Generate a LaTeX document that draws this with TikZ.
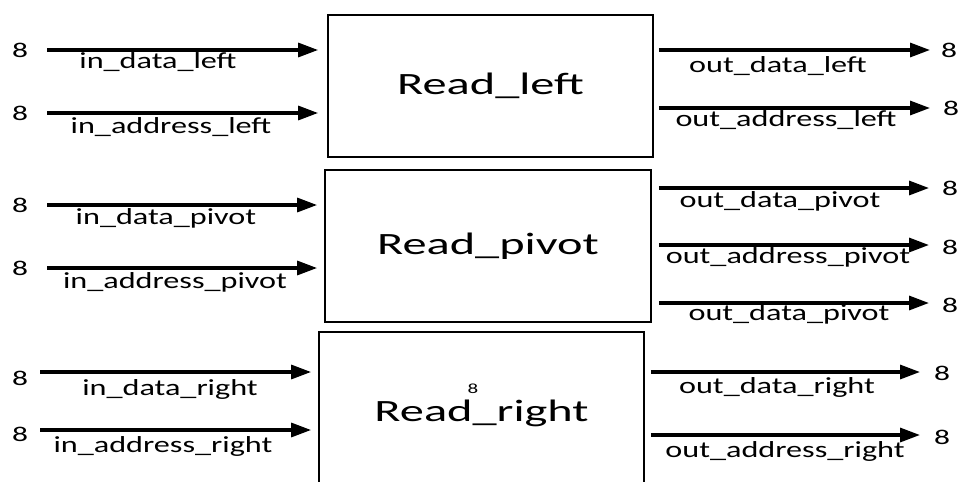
\documentclass[tikz,border=0pt]{standalone}
\usepackage{fontspec}
\setmainfont{Carlito}[FakeStretch=1.5]
\newfontfamily\lblfont{Carlito}[FakeStretch=1.40]
\newfontfamily\ttlfont{Carlito}[FakeStretch=1.56]
\usetikzlibrary{arrows.meta}

\tikzset{
  block/.style={draw, line width=1.8pt, inner sep=0pt, font=\ttlfont\fontsize{31}{34}\selectfont},
  wire/.style={line width=3.2pt, -{Triangle[length=20pt,width=14pt]}},
  sig/.style={anchor=base, inner sep=0pt, font=\lblfont\fontsize{23}{26}\selectfont},
  bits/.style={inner sep=0pt, font=\fontsize{21}{24}\selectfont},
}

\begin{document}
\begin{tikzpicture}[x=1pt,y=-1pt]
\useasboundingbox (0,0) rectangle (962,482);
\clip (0,0) rectangle (962,482);

% the three read units
\node[block, minimum width=325pt, minimum height=142pt] (L) at (490.5,86) {Read\_left};
\node[block, minimum width=326pt, minimum height=152pt] (P) at (488,246) {Read\_pivot};
\node[block, minimum width=325pt, minimum height=162pt] (R) at (481.5,413) {Read\_right};
\node[inner sep=0pt, font=\fontsize{14}{16}\selectfont] (rw) at (473,389) {8};

% input ports
\coordinate (iL1) at (47,50);   \coordinate (iL2) at (47,113);
\coordinate (iP1) at (47,205);  \coordinate (iP2) at (47,268);
\coordinate (iR1) at (40,372);  \coordinate (iR2) at (40,430);

\draw[wire, shorten >=9pt] (iL1) -- (iL1 -| L.west);
\draw[wire, shorten >=9pt] (iL2) -- (iL2 -| L.west);
\draw[wire, shorten >=7pt] (iP1) -- (iP1 -| P.west);
\draw[wire, shorten >=7pt] (iP2) -- (iP2 -| P.west);
\draw[wire, shorten >=7pt] (iR1) -- (iR1 -| R.west);
\draw[wire, shorten >=7pt] (iR2) -- (iR2 -| R.west);

% output ports
\coordinate (oL1) at (930,50);   \coordinate (oL2) at (930,108);
\coordinate (oP1) at (929,188);  \coordinate (oP2) at (929,245);  \coordinate (oP3) at (929,303);
\coordinate (oR1) at (920,372);  \coordinate (oR2) at (920,435);

\draw[wire, shorten <=5pt] (oL1 -| L.east) -- (oL1);
\draw[wire, shorten <=5pt] (oL2 -| L.east) -- (oL2);
\draw[wire, shorten <=7pt] (oP1 -| P.east) -- (oP1);
\draw[wire, shorten <=7pt] (oP2 -| P.east) -- (oP2);
\draw[wire, shorten <=7pt] (oP3 -| P.east) -- (oP3);
\draw[wire, shorten <=6pt] (oR1 -| R.east) -- (oR1);
\draw[wire, shorten <=6pt] (oR2 -| R.east) -- (oR2);

% signal names
\node[sig] (n1) at (158,68)  {in\_data\_left};
\node[sig] (n2) at (171,133) {in\_address\_left};
\node[sig] (n3) at (166,224) {in\_data\_pivot};
\node[sig] (n4) at (175,288) {in\_address\_pivot};
\node[sig] (n5) at (170,395) {in\_data\_right};
\node[sig] (n6) at (163,452) {in\_address\_right};

\node[sig] (m1) at (778,72)  {out\_data\_left};
\node[sig] (m2) at (786,126) {out\_address\_left};
\node[sig] (m3) at (780,207) {out\_data\_pivot};
\node[sig] (m4) at (788,263) {out\_address\_pivot};
\node[sig] (m5) at (789,320) {out\_data\_pivot};
\node[sig] (m6) at (777,393) {out\_data\_right};
\node[sig] (m7) at (785,457) {out\_address\_right};

% bus widths
\node[bits] (b1) at (20,50)  {8};
\node[bits] (b2) at (20,113) {8};
\node[bits] (b3) at (20,205) {8};
\node[bits] (b4) at (20,268) {8};
\node[bits] (b5) at (20,378) {8};
\node[bits] (b6) at (20,434) {8};

\node[bits] (c1) at (949,50)  {8};
\node[bits] (c2) at (951,108) {8};
\node[bits] (c3) at (950,188) {8};
\node[bits] (c4) at (950,247) {8};
\node[bits] (c5) at (950,305) {8};
\node[bits] (c6) at (942,373) {8};
\node[bits] (c7) at (942,437) {8};
\end{tikzpicture}
\end{document}
